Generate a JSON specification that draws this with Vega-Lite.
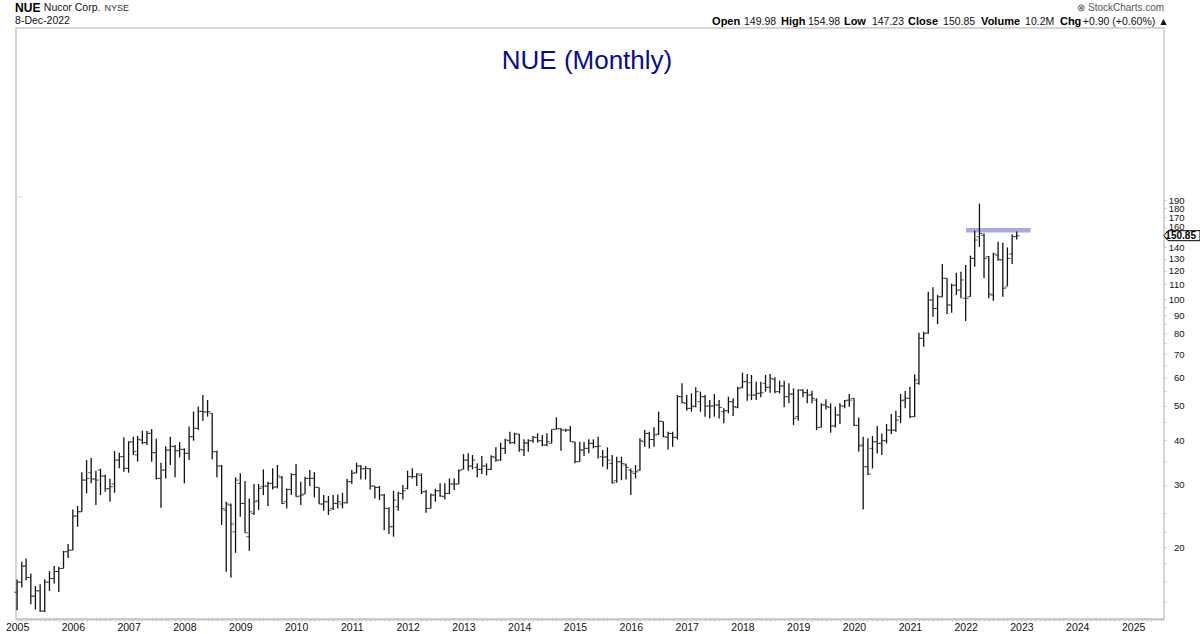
{
"$schema":"https://vega.github.io/schema/vega-lite/v6.json",
"description":"NUE monthly OHLC bars on a log price scale",
"width":1148,"height":591,
"autosize":"none",
"padding":{"left":16,"top":28,"right":36,"bottom":15},
"background":"white",
"config":{"font":"Liberation Sans","view":{"stroke":"#c8c8c8","strokeWidth":1.5}},
"title":{"text":"NUE (Monthly)","anchor":"middle","dx":-3,"offset":-72,"fontSize":26,"fontWeight":"normal","color":"#0b0b8f"},
"datasets":{
"labels":[
{"d":"2004-12-19","p":661,"t":"NUE","kind":"big"},
{"d":"2005-06-25","p":661,"t":"Nucor Corp.","kind":"plain"},
{"d":"2006-07-28","p":661,"t":"NYSE","kind":"small"},
{"d":"2004-12-19","p":607,"t":"8-Dec-2022","kind":"plain"},
{"d":"2024-01-01","p":661,"t":"⊗ StockCharts.com","kind":"brand"},
{"d":"2017-06-16","p":604,"t":"Open","kind":"bold"},
{"d":"2018-01-11","p":604,"t":"149.98","kind":"plain"},
{"d":"2018-09-10","p":604,"t":"High","kind":"bold"},
{"d":"2019-03-06","p":604,"t":"154.98","kind":"plain"},
{"d":"2019-10-27","p":604,"t":"Low","kind":"bold"},
{"d":"2020-04-27","p":604,"t":"147.23","kind":"plain"},
{"d":"2020-12-20","p":604,"t":"Close","kind":"bold"},
{"d":"2021-08-06","p":604,"t":"150.85","kind":"plain"},
{"d":"2022-04-12","p":604,"t":"Volume","kind":"bold"},
{"d":"2023-01-25","p":604,"t":"10.2M","kind":"plain"},
{"d":"2023-09-10","p":604,"t":"Chg","kind":"bold"},
{"d":"2024-02-07","p":604,"t":"+0.90 (+0.60%) ▲","kind":"plain"}
]
},
"data":{"values":[
{"d":"2005-01-01","o":14.92,"h":16.2,"l":13.27,"c":15.93},
{"d":"2005-02-01","o":15.93,"h":18.17,"l":15.38,"c":17.68},
{"d":"2005-03-01","o":17.68,"h":18.57,"l":16.13,"c":16.42},
{"d":"2005-04-01","o":16.42,"h":16.85,"l":13.8,"c":14.54},
{"d":"2005-05-01","o":14.54,"h":15.52,"l":13.33,"c":15.05},
{"d":"2005-06-01","o":15.05,"h":15.72,"l":13.12,"c":13.21},
{"d":"2005-07-01","o":13.21,"h":16.24,"l":13.12,"c":15.93},
{"d":"2005-08-01","o":15.93,"h":17.1,"l":15.05,"c":16.31},
{"d":"2005-09-01","o":16.31,"h":17.68,"l":15.79,"c":17.07},
{"d":"2005-10-01","o":17.07,"h":17.6,"l":14.95,"c":17.41},
{"d":"2005-11-01","o":17.41,"h":19.52,"l":17.41,"c":19.4},
{"d":"2005-12-01","o":19.4,"h":20.4,"l":18.63,"c":19.6},
{"d":"2006-01-01","o":19.6,"h":25.53,"l":19.6,"c":24.46},
{"d":"2006-02-01","o":24.46,"h":26.1,"l":22.82,"c":25.15},
{"d":"2006-03-01","o":25.15,"h":32.48,"l":25.15,"c":30.89},
{"d":"2006-04-01","o":30.89,"h":35.17,"l":28.33,"c":31.23},
{"d":"2006-05-01","o":32.4,"h":35.64,"l":30.24,"c":31.1},
{"d":"2006-06-01","o":31.1,"h":32.82,"l":26.27,"c":30.89},
{"d":"2006-07-01","o":32.96,"h":33.26,"l":28.03,"c":31.72},
{"d":"2006-08-01","o":31.72,"h":32.0,"l":28.63,"c":29.2},
{"d":"2006-09-01","o":29.2,"h":31.16,"l":26.83,"c":29.59},
{"d":"2006-10-01","o":30.11,"h":37.29,"l":28.45,"c":35.17},
{"d":"2006-11-01","o":35.17,"h":36.9,"l":33.33,"c":35.96},
{"d":"2006-12-01","o":35.96,"h":40.77,"l":32.61,"c":33.33},
{"d":"2007-01-01","o":33.33,"h":39.71,"l":32.4,"c":39.55},
{"d":"2007-02-01","o":39.55,"h":40.95,"l":36.35,"c":37.21},
{"d":"2007-03-01","o":36.35,"h":41.13,"l":34.8,"c":40.23},
{"d":"2007-04-01","o":40.05,"h":42.56,"l":39.04,"c":39.38},
{"d":"2007-05-01","o":39.38,"h":42.47,"l":38.79,"c":41.84},
{"d":"2007-06-01","o":41.84,"h":43.03,"l":34.8,"c":36.9},
{"d":"2007-07-01","o":36.9,"h":40.41,"l":31.03,"c":31.23},
{"d":"2007-08-01","o":31.23,"h":34.58,"l":25.82,"c":32.96},
{"d":"2007-09-01","o":32.96,"h":38.49,"l":31.23,"c":37.53},
{"d":"2007-10-01","o":37.53,"h":40.95,"l":34.06,"c":38.49},
{"d":"2007-11-01","o":38.37,"h":38.79,"l":31.44,"c":37.37},
{"d":"2007-12-01","o":37.37,"h":39.55,"l":35.8,"c":37.7},
{"d":"2008-01-01","o":37.7,"h":37.95,"l":30.24,"c":36.74},
{"d":"2008-02-01","o":36.74,"h":43.7,"l":35.17,"c":40.95},
{"d":"2008-03-01","o":40.95,"h":48.16,"l":39.88,"c":43.22},
{"d":"2008-04-01","o":43.22,"h":49.76,"l":42.74,"c":48.26},
{"d":"2008-05-01","o":48.26,"h":53.69,"l":45.42,"c":48.06},
{"d":"2008-06-01","o":48.06,"h":51.94,"l":46.63,"c":48.16},
{"d":"2008-07-01","o":47.65,"h":47.65,"l":35.33,"c":37.13},
{"d":"2008-08-01","o":37.13,"h":37.37,"l":31.44,"c":33.84},
{"d":"2008-09-01","o":33.84,"h":34.06,"l":23.07,"c":25.7},
{"d":"2008-10-01","o":25.42,"h":26.84,"l":17.03,"c":26.44},
{"d":"2008-11-01","o":26.27,"h":26.55,"l":16.42,"c":23.22},
{"d":"2008-12-01","o":22.09,"h":31.44,"l":19.27,"c":30.89},
{"d":"2009-01-01","o":30.24,"h":32.27,"l":24.35,"c":26.55},
{"d":"2009-02-01","o":26.55,"h":30.7,"l":21.94,"c":21.94},
{"d":"2009-03-01","o":21.39,"h":27.43,"l":19.52,"c":25.15},
{"d":"2009-04-01","o":24.89,"h":30.11,"l":24.62,"c":26.84},
{"d":"2009-05-01","o":27.0,"h":30.11,"l":25.42,"c":29.27},
{"d":"2009-06-01","o":29.59,"h":33.11,"l":28.03,"c":29.72},
{"d":"2009-07-01","o":29.72,"h":30.57,"l":26.09,"c":30.24},
{"d":"2009-08-01","o":30.24,"h":33.33,"l":29.07,"c":29.46},
{"d":"2009-09-01","o":29.59,"h":34.06,"l":29.27,"c":31.72},
{"d":"2009-10-01","o":31.44,"h":31.72,"l":26.44,"c":26.55},
{"d":"2009-11-01","o":26.84,"h":29.27,"l":25.7,"c":29.07},
{"d":"2009-12-01","o":29.07,"h":32.27,"l":28.03,"c":32.0},
{"d":"2010-01-01","o":32.0,"h":34.28,"l":27.73,"c":27.73},
{"d":"2010-02-01","o":27.85,"h":30.57,"l":26.27,"c":28.03},
{"d":"2010-03-01","o":28.2,"h":31.58,"l":28.2,"c":31.23},
{"d":"2010-04-01","o":31.23,"h":32.96,"l":29.72,"c":31.23},
{"d":"2010-05-01","o":31.23,"h":32.54,"l":27.6,"c":29.46},
{"d":"2010-06-01","o":29.46,"h":29.46,"l":26.44,"c":26.44},
{"d":"2010-07-01","o":26.44,"h":28.03,"l":25.31,"c":26.84},
{"d":"2010-08-01","o":26.84,"h":27.85,"l":24.62,"c":25.42},
{"d":"2010-09-01","o":25.7,"h":28.03,"l":25.42,"c":26.55},
{"d":"2010-10-01","o":26.55,"h":28.15,"l":25.7,"c":26.84},
{"d":"2010-11-01","o":26.44,"h":28.45,"l":25.7,"c":26.66},
{"d":"2010-12-01","o":26.66,"h":31.16,"l":26.55,"c":30.57},
{"d":"2011-01-01","o":30.57,"h":32.96,"l":30.11,"c":32.27},
{"d":"2011-02-01","o":32.4,"h":34.58,"l":32.27,"c":33.84},
{"d":"2011-03-01","o":33.84,"h":34.06,"l":31.03,"c":33.26},
{"d":"2011-04-01","o":33.26,"h":33.84,"l":31.03,"c":33.33},
{"d":"2011-05-01","o":33.26,"h":33.33,"l":29.07,"c":29.72},
{"d":"2011-06-01","o":29.72,"h":29.72,"l":27.42,"c":29.46},
{"d":"2011-07-01","o":29.46,"h":29.72,"l":27.12,"c":28.03},
{"d":"2011-08-01","o":28.03,"h":28.2,"l":22.32,"c":25.7},
{"d":"2011-09-01","o":25.7,"h":25.88,"l":21.76,"c":22.82},
{"d":"2011-10-01","o":22.82,"h":28.82,"l":21.39,"c":27.12},
{"d":"2011-11-01","o":25.99,"h":28.63,"l":25.31,"c":28.33},
{"d":"2011-12-01","o":28.33,"h":29.91,"l":27.24,"c":28.82},
{"d":"2012-01-01","o":29.27,"h":32.82,"l":29.07,"c":31.58},
{"d":"2012-02-01","o":31.58,"h":33.33,"l":31.23,"c":31.58},
{"d":"2012-03-01","o":31.58,"h":32.27,"l":29.72,"c":32.13},
{"d":"2012-04-01","o":31.85,"h":32.27,"l":28.2,"c":28.63},
{"d":"2012-05-01","o":28.63,"h":28.94,"l":24.99,"c":25.7},
{"d":"2012-06-01","o":25.7,"h":28.33,"l":25.7,"c":28.03},
{"d":"2012-07-01","o":28.03,"h":29.2,"l":26.84,"c":28.82},
{"d":"2012-08-01","o":28.82,"h":30.24,"l":27.73,"c":27.85},
{"d":"2012-09-01","o":27.73,"h":30.24,"l":27.24,"c":28.33},
{"d":"2012-10-01","o":28.33,"h":31.23,"l":28.2,"c":30.11},
{"d":"2012-11-01","o":30.11,"h":31.23,"l":28.94,"c":30.11},
{"d":"2012-12-01","o":30.11,"h":33.11,"l":30.11,"c":32.82},
{"d":"2013-01-01","o":33.11,"h":36.56,"l":33.11,"c":35.17},
{"d":"2013-02-01","o":35.17,"h":36.74,"l":32.82,"c":33.84},
{"d":"2013-03-01","o":33.84,"h":36.35,"l":33.11,"c":35.17},
{"d":"2013-04-01","o":33.55,"h":34.43,"l":31.44,"c":33.11},
{"d":"2013-05-01","o":33.11,"h":36.11,"l":32.13,"c":33.84},
{"d":"2013-06-01","o":33.84,"h":34.43,"l":31.85,"c":33.11},
{"d":"2013-07-01","o":33.11,"h":36.27,"l":32.96,"c":35.96},
{"d":"2013-08-01","o":35.8,"h":38.2,"l":34.8,"c":35.17},
{"d":"2013-09-01","o":35.17,"h":39.38,"l":35.02,"c":37.95},
{"d":"2013-10-01","o":37.95,"h":40.41,"l":36.56,"c":40.05},
{"d":"2013-11-01","o":39.88,"h":42.29,"l":39.04,"c":39.38},
{"d":"2013-12-01","o":39.38,"h":42.02,"l":39.04,"c":41.66},
{"d":"2014-01-01","o":41.66,"h":41.66,"l":37.13,"c":37.7},
{"d":"2014-02-01","o":37.53,"h":40.23,"l":36.11,"c":39.38},
{"d":"2014-03-01","o":39.21,"h":40.23,"l":37.13,"c":39.88},
{"d":"2014-04-01","o":39.88,"h":41.13,"l":39.38,"c":40.77},
{"d":"2014-05-01","o":40.77,"h":41.84,"l":39.38,"c":39.88},
{"d":"2014-06-01","o":39.88,"h":41.39,"l":38.49,"c":38.79},
{"d":"2014-07-01","o":38.79,"h":41.84,"l":38.49,"c":39.63},
{"d":"2014-08-01","o":39.21,"h":42.93,"l":39.21,"c":42.93},
{"d":"2014-09-01","o":42.93,"h":46.43,"l":42.93,"c":43.12},
{"d":"2014-10-01","o":43.12,"h":43.22,"l":37.37,"c":42.74},
{"d":"2014-11-01","o":42.74,"h":43.12,"l":42.29,"c":42.74},
{"d":"2014-12-01","o":42.74,"h":43.89,"l":39.63,"c":39.63},
{"d":"2015-01-01","o":39.55,"h":39.63,"l":34.43,"c":34.8},
{"d":"2015-02-01","o":34.8,"h":39.63,"l":34.8,"c":37.53},
{"d":"2015-03-01","o":37.53,"h":39.63,"l":36.11,"c":37.95},
{"d":"2015-04-01","o":37.95,"h":40.23,"l":36.74,"c":39.21},
{"d":"2015-05-01","o":39.21,"h":40.23,"l":37.95,"c":38.37},
{"d":"2015-06-01","o":38.37,"h":40.95,"l":35.56,"c":38.49},
{"d":"2015-07-01","o":35.94,"h":37.52,"l":33.68,"c":35.79},
{"d":"2015-08-01","o":35.94,"h":38.19,"l":33.1,"c":35.16},
{"d":"2015-09-01","o":34.42,"h":36.33,"l":30.23,"c":30.36},
{"d":"2015-10-01","o":30.75,"h":35.94,"l":30.36,"c":34.79},
{"d":"2015-11-01","o":34.79,"h":35.94,"l":30.88,"c":34.42},
{"d":"2015-12-01","o":34.05,"h":34.42,"l":31.02,"c":33.54},
{"d":"2016-01-01","o":32.95,"h":33.32,"l":28.02,"c":32.6},
{"d":"2016-02-01","o":32.26,"h":34.05,"l":31.22,"c":32.6},
{"d":"2016-03-01","o":32.95,"h":40.49,"l":32.81,"c":39.87},
{"d":"2016-04-01","o":39.62,"h":42.72,"l":38.36,"c":41.82},
{"d":"2016-05-01","o":41.82,"h":42.27,"l":37.94,"c":40.2},
{"d":"2016-06-01","o":40.2,"h":43.49,"l":38.36,"c":41.37},
{"d":"2016-07-01","o":41.64,"h":48.14,"l":41.37,"c":45.21},
{"d":"2016-08-01","o":45.21,"h":45.21,"l":40.76,"c":40.94},
{"d":"2016-09-01","o":40.76,"h":42.27,"l":37.69,"c":41.82},
{"d":"2016-10-01","o":41.82,"h":42.27,"l":38.36,"c":40.76},
{"d":"2016-11-01","o":40.76,"h":53.66,"l":40.2,"c":53.08},
{"d":"2016-12-01","o":53.08,"h":57.88,"l":50.83,"c":51.05},
{"d":"2017-01-01","o":50.83,"h":53.66,"l":48.45,"c":49.2},
{"d":"2017-02-01","o":49.2,"h":54.24,"l":48.14,"c":49.96},
{"d":"2017-03-01","o":49.74,"h":56.39,"l":49.52,"c":54.82},
{"d":"2017-04-01","o":51.38,"h":54.82,"l":48.14,"c":53.08},
{"d":"2017-05-01","o":53.08,"h":53.66,"l":46.61,"c":49.96},
{"d":"2017-06-01","o":49.96,"h":51.92,"l":46.1,"c":49.96},
{"d":"2017-07-01","o":49.96,"h":54.01,"l":46.61,"c":50.29},
{"d":"2017-08-01","o":50.29,"h":51.92,"l":46.1,"c":49.52},
{"d":"2017-09-01","o":48.14,"h":49.2,"l":44.63,"c":48.45},
{"d":"2017-10-01","o":48.45,"h":53.08,"l":47.63,"c":51.38},
{"d":"2017-11-01","o":51.38,"h":52.5,"l":46.82,"c":49.74},
{"d":"2017-12-01","o":49.52,"h":56.64,"l":49.2,"c":56.02},
{"d":"2018-01-01","o":56.39,"h":62.03,"l":56.02,"c":58.5},
{"d":"2018-02-01","o":58.5,"h":61.5,"l":51.7,"c":53.66},
{"d":"2018-03-01","o":58.13,"h":61.1,"l":51.92,"c":53.66},
{"d":"2018-04-01","o":53.66,"h":58.5,"l":51.92,"c":54.24},
{"d":"2018-05-01","o":54.24,"h":58.5,"l":52.85,"c":54.47},
{"d":"2018-06-01","o":57.88,"h":61.1,"l":54.82,"c":56.39},
{"d":"2018-07-01","o":56.39,"h":61.5,"l":54.47,"c":59.78},
{"d":"2018-08-01","o":59.38,"h":60.18,"l":54.24,"c":54.82},
{"d":"2018-09-01","o":54.82,"h":58.87,"l":54.24,"c":56.89},
{"d":"2018-10-01","o":56.89,"h":58.87,"l":49.52,"c":53.08},
{"d":"2018-11-01","o":53.08,"h":57.88,"l":50.83,"c":54.01},
{"d":"2018-12-01","o":54.01,"h":56.02,"l":44.15,"c":46.1},
{"d":"2019-01-01","o":46.61,"h":55.65,"l":45.4,"c":55.4},
{"d":"2019-02-01","o":55.4,"h":55.65,"l":52.85,"c":54.47},
{"d":"2019-03-01","o":54.47,"h":55.65,"l":50.83,"c":53.66},
{"d":"2019-04-01","o":53.66,"h":55.17,"l":50.83,"c":52.5},
{"d":"2019-05-01","o":51.92,"h":52.5,"l":42.72,"c":43.49},
{"d":"2019-06-01","o":43.49,"h":50.83,"l":43.49,"c":50.29},
{"d":"2019-07-01","o":50.29,"h":52.15,"l":48.87,"c":49.74},
{"d":"2019-08-01","o":49.52,"h":50.83,"l":42.0,"c":43.87},
{"d":"2019-09-01","o":43.87,"h":49.74,"l":43.49,"c":47.12},
{"d":"2019-10-01","o":47.12,"h":50.83,"l":44.44,"c":49.96},
{"d":"2019-11-01","o":49.96,"h":51.92,"l":49.2,"c":51.7},
{"d":"2019-12-01","o":51.92,"h":54.01,"l":49.74,"c":51.92},
{"d":"2020-01-01","o":52.5,"h":52.5,"l":43.87,"c":44.06},
{"d":"2020-02-01","o":44.06,"h":46.4,"l":37.12,"c":38.53},
{"d":"2020-03-01","o":38.78,"h":40.94,"l":25.53,"c":33.68},
{"d":"2020-04-01","o":33.68,"h":40.49,"l":31.91,"c":32.12},
{"d":"2020-05-01","o":37.94,"h":41.1,"l":33.32,"c":39.62},
{"d":"2020-06-01","o":39.62,"h":43.87,"l":36.73,"c":39.2},
{"d":"2020-07-01","o":39.2,"h":41.82,"l":36.33,"c":39.87},
{"d":"2020-08-01","o":39.87,"h":44.44,"l":39.2,"c":42.72},
{"d":"2020-09-01","o":42.72,"h":47.43,"l":41.64,"c":42.72},
{"d":"2020-10-01","o":42.72,"h":48.45,"l":42.27,"c":45.59},
{"d":"2020-11-01","o":46.64,"h":54.04,"l":44.69,"c":51.73},
{"d":"2020-12-01","o":51.96,"h":55.09,"l":49.24,"c":52.53},
{"d":"2021-01-01","o":52.53,"h":56.64,"l":46.15,"c":46.64},
{"d":"2021-02-01","o":46.64,"h":61.4,"l":46.45,"c":59.15},
{"d":"2021-03-01","o":57.87,"h":80.3,"l":57.3,"c":77.5},
{"d":"2021-04-01","o":77.5,"h":80.85,"l":73.4,"c":79.9},
{"d":"2021-05-01","o":80.3,"h":104.9,"l":79.9,"c":99.35},
{"d":"2021-06-01","o":99.35,"h":107.9,"l":89.2,"c":94.1},
{"d":"2021-07-01","o":94.1,"h":102.6,"l":85.0,"c":101.5},
{"d":"2021-08-01","o":101.5,"h":125.5,"l":101.1,"c":114.4},
{"d":"2021-09-01","o":114.4,"h":114.4,"l":90.7,"c":96.2},
{"d":"2021-10-01","o":96.2,"h":110.5,"l":91.5,"c":109.4},
{"d":"2021-11-01","o":109.4,"h":118.6,"l":102.6,"c":106.0},
{"d":"2021-12-01","o":106.0,"h":119.4,"l":100.5,"c":113.2},
{"d":"2022-01-01","o":100.5,"h":124.7,"l":86.7,"c":100.5},
{"d":"2022-02-01","o":101.5,"h":132.5,"l":101.5,"c":130.2},
{"d":"2022-03-01","o":130.2,"h":155.8,"l":123.4,"c":146.7},
{"d":"2022-04-01","o":149.8,"h":185.8,"l":140.3,"c":153.0},
{"d":"2022-05-01","o":151.3,"h":153.0,"l":114.4,"c":130.2},
{"d":"2022-06-01","o":131.6,"h":132.2,"l":100.5,"c":103.3},
{"d":"2022-07-01","o":102.6,"h":135.0,"l":98.9,"c":133.9},
{"d":"2022-08-01","o":133.0,"h":145.1,"l":128.2,"c":129.3},
{"d":"2022-09-01","o":128.8,"h":144.1,"l":101.5,"c":107.2},
{"d":"2022-10-01","o":108.2,"h":139.8,"l":108.7,"c":130.2},
{"d":"2022-11-01","o":133.9,"h":152.2,"l":125.5,"c":149.95},
{"d":"2022-12-01","o":149.98,"h":154.98,"l":147.23,"c":150.85}
]},
"encoding":{
"x":{"field":"d","type":"temporal","title":null,
"scale":{"type":"utc","domain":["2004-12-25","2025-07-22"]},
"axis":{"orient":"bottom","grid":false,"tickCount":{"interval":"month","step":1},"tickSize":2,"tickColor":"#c8c8c8","domainColor":"#c8c8c8","domainWidth":2,"labelOverlap":false,"labelFlush":false,"labelFontSize":10.5,"labelColor":"#111","labelPadding":1,"labelExpr":"utcmonth(datum.value)===0?utcFormat(datum.value,'%Y'):''"}}
},
"layer":[
{"data":{"values":[{"d":"2022-01-03","d2":"2023-03-02","p":154.0,"p2":158.5}]},
"mark":{"type":"rect","color":"#aaaae2"},
"encoding":{"x2":{"field":"d2"},
"y":{"field":"p","type":"quantitative","title":null,"scale":{"type":"log","domain":[12.54,580.6],"nice":false},
"axis":{"orient":"right","grid":false,"values":[14,16,18,20,22,25,30,35,40,45,50,55,60,65,70,75,80,85,90,95,100,110,120,130,140,150,160,170,180,190],"tickSize":2,"tickColor":"#c8c8c8","domain":false,"format":"d","labelFontSize":9.5,"labelColor":"#111","labelAlign":"right","labelPadding":18,"labelOverlap":false,"labelExpr":"datum.value>=20&&datum.value%10===0&&datum.value!==150?datum.label:''"}},"y2":{"field":"p2"}}},
{"mark":{"type":"rule","color":"#111","strokeWidth":1.3},
"encoding":{
"y":{"field":"l","type":"quantitative","title":null,"scale":{"type":"log","domain":[12.54,580.6],"nice":false}},
"y2":{"field":"h"}}},
{"mark":{"type":"tick","orient":"horizontal","size":3,"thickness":1,"xOffset":-1.5,"color":"#111"},
"encoding":{"y":{"field":"o","type":"quantitative","title":null,"scale":{"type":"log","domain":[12.54,580.6],"nice":false}}}},
{"mark":{"type":"tick","orient":"horizontal","size":3,"thickness":1,"xOffset":1.5,"color":"#111"},
"encoding":{"y":{"field":"c","type":"quantitative","title":null,"scale":{"type":"log","domain":[12.54,580.6],"nice":false}}}},
{"data":{"values":[{"d":"2005-01-14","p":194}]},
"mark":{"type":"tick","orient":"horizontal","size":6,"thickness":1,"color":"#c8c8c8"},
"encoding":{"y":{"field":"p","type":"quantitative","title":null,"scale":{"type":"log","domain":[12.54,580.6],"nice":false}}}},
{"data":{"name":"labels"},"transform":[{"filter":"datum.kind==='big'"}],
"mark":{"type":"text","align":"left","baseline":"middle","fontSize":12,"fontWeight":"bold","color":"#000"},
"encoding":{"y":{"field":"p","type":"quantitative","title":null,"scale":{"type":"log","domain":[12.54,580.6],"nice":false}},"text":{"field":"t"}}},
{"data":{"name":"labels"},"transform":[{"filter":"datum.kind==='bold'"}],
"mark":{"type":"text","align":"left","baseline":"middle","fontSize":11,"fontWeight":"bold","color":"#000"},
"encoding":{"y":{"field":"p","type":"quantitative","title":null,"scale":{"type":"log","domain":[12.54,580.6],"nice":false}},"text":{"field":"t"}}},
{"data":{"name":"labels"},"transform":[{"filter":"datum.kind==='plain'"}],
"mark":{"type":"text","align":"left","baseline":"middle","fontSize":10.5,"color":"#111"},
"encoding":{"y":{"field":"p","type":"quantitative","title":null,"scale":{"type":"log","domain":[12.54,580.6],"nice":false}},"text":{"field":"t"}}},
{"data":{"name":"labels"},"transform":[{"filter":"datum.kind==='small'"}],
"mark":{"type":"text","align":"left","baseline":"middle","fontSize":9,"color":"#333"},
"encoding":{"y":{"field":"p","type":"quantitative","title":null,"scale":{"type":"log","domain":[12.54,580.6],"nice":false}},"text":{"field":"t"}}},
{"data":{"name":"labels"},"transform":[{"filter":"datum.kind==='brand'"}],
"mark":{"type":"text","align":"left","baseline":"middle","fontSize":10,"color":"#555"},
"encoding":{"y":{"field":"p","type":"quantitative","title":null,"scale":{"type":"log","domain":[12.54,580.6],"nice":false}},"text":{"field":"t"}}},
{"data":{"values":[{"d":"2025-07-22","p":150.85}]},
"mark":{"type":"point","shape":"M0,0L0.2,-0.25L1.8,-0.25L1.8,0.25L0.2,0.25Z","size":1600,"filled":true,"fill":"white","stroke":"#000","strokeWidth":1,"opacity":1},
"encoding":{"y":{"field":"p","type":"quantitative","title":null,"scale":{"type":"log","domain":[12.54,580.6],"nice":false}}}},
{"data":{"values":[{"d":"2025-11-08","p":150.85,"t":"150.85"}]},
"mark":{"type":"text","align":"center","baseline":"middle","fontSize":10,"fontWeight":"bold","color":"#000"},
"encoding":{"y":{"field":"p","type":"quantitative","title":null,"scale":{"type":"log","domain":[12.54,580.6],"nice":false}},"text":{"field":"t"}}}
]
}
